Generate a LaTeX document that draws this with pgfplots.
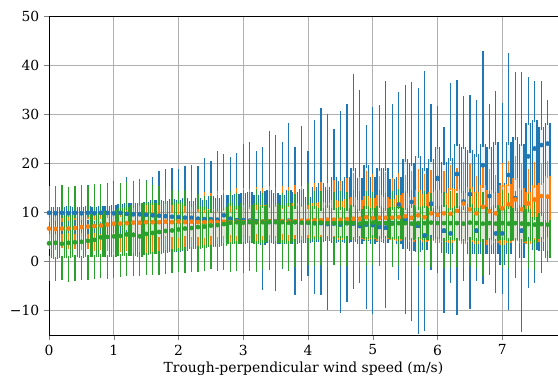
\documentclass[border=0pt]{standalone}
\usepackage{fontspec}
\setmainfont{DejaVu Serif}
\usepackage{pgfplots}
\usepackage{pgfplotstable}
\pgfplotsset{compat=1.18}
\definecolor{cblue}{HTML}{1F77B4}
\definecolor{corange}{HTML}{FF7F0E}
\definecolor{cgreen}{HTML}{2CA02C}

\pgfplotstableread{
x lw q1 med q3 uw mean
0.0 5.0 8.2 9.8 11.0 14.6 9.9
0.1 4.8 8.0 9.9 11.1 14.8 9.8
0.2 5.2 8.3 9.7 11.0 14.5 9.9
0.3 4.6 8.1 9.8 11.2 14.7 9.8
0.4 4.9 8.2 9.9 11.0 14.6 9.9
0.5 4.5 8.0 9.8 11.1 15.0 9.8
0.6 4.7 7.9 9.9 11.2 15.2 9.9
0.7 4.4 7.8 9.8 11.0 15.0 9.8
0.8 4.2 7.6 9.9 11.3 15.3 9.9
0.9 4.0 7.5 9.8 11.2 15.6 9.9
1.0 3.5 7.0 9.8 11.5 16.0 9.8
1.1 3.2 6.8 9.9 11.6 15.5 9.9
1.2 2.8 6.0 9.8 11.9 16.8 9.7
1.3 2.5 5.5 9.7 11.8 16.0 9.6
1.4 2.0 5.0 9.6 12.0 16.4 9.6
1.5 1.5 4.2 9.5 12.2 16.2 9.5
1.6 1.0 3.8 9.4 12.5 16.9 9.4
1.7 0.8 3.0 9.3 12.6 18.0 9.3
1.8 0.5 2.2 9.2 12.4 18.4 9.2
1.9 0.2 2.0 9.2 12.8 18.6 9.1
2.0 0.0 1.9 9.0 12.6 18.4 9.0
2.1 -0.2 2.2 9.0 12.9 19.0 8.9
2.2 -0.5 2.5 8.9 12.4 19.2 8.9
2.3 -0.8 2.8 8.8 13.0 19.0 8.7
2.4 -1.0 3.0 8.7 12.6 20.6 8.6
2.5 -1.2 3.2 8.6 13.3 20.0 8.6
2.6 -0.5 3.5 8.5 12.9 22.0 8.5
2.7 0.4 3.8 9.4 13.6 21.4 9.4
2.8 -0.8 3.6 8.8 13.5 20.8 8.7
2.9 -1.0 3.5 8.4 13.8 21.6 8.4
3.0 -2.0 3.7 8.5 14.0 23.5 8.4
3.1 -1.5 3.8 8.3 14.2 23.9 8.3
3.2 -1.0 3.6 8.2 13.5 22.0 8.2
3.3 -5.5 3.4 8.2 14.3 22.9 8.1
3.4 -1.4 3.7 8.0 14.5 26.1 8.0
3.5 -5.7 3.5 8.3 14.0 25.4 8.2
3.6 -1.2 3.6 8.0 13.6 24.0 8.1
3.7 -0.4 3.9 8.2 14.5 27.9 8.3
3.8 -6.5 3.5 8.0 14.2 22.9 8.0
3.9 -3.5 3.7 8.1 14.8 27.1 8.1
4.0 -2.5 3.8 7.8 13.1 22.1 7.9
4.1 -6.3 3.9 7.8 15.1 28.4 7.8
4.2 -6.5 4.0 7.7 15.9 30.8 7.8
4.3 -9.6 4.2 7.8 15.1 29.7 7.6
4.4 -0.4 3.8 7.7 17.1 26.5 7.7
4.5 -10.1 4.0 7.5 16.3 30.2 7.5
4.6 -7.8 3.7 7.8 17.2 31.6 7.8
4.7 -5.2 4.0 7.6 19.0 37.8 7.7
4.8 -4.0 3.5 7.0 17.0 34.6 7.2
4.9 -9.3 4.2 7.8 19.6 27.4 7.5
5.0 -10.4 3.5 7.2 17.2 31.0 7.4
5.1 0.6 4.0 6.8 19.0 31.5 7.0
5.2 -9.1 3.7 6.5 19.0 36.3 6.9
5.3 2.9 4.5 7.8 16.7 31.6 7.8
5.4 -3.3 3.5 11.0 17.1 34.2 11.6
5.5 -10.4 2.5 8.0 20.8 35.6 8.5
5.6 -11.8 2.2 12.0 20.0 36.1 12.1
5.7 -14.4 2.0 7.0 21.5 35.0 7.5
5.8 -13.7 2.4 5.0 19.0 38.4 5.3
5.9 -1.4 4.9 11.5 20.8 31.6 11.8
6.0 -2.0 4.3 16.5 23.3 31.2 17.0
6.1 -10.2 1.8 6.0 20.2 27.0 6.3
6.2 -4.0 1.6 5.5 21.0 36.0 5.7
6.3 -10.6 4.3 17.5 24.0 36.6 17.8
6.4 -3.5 3.7 12.0 23.3 33.3 12.2
6.5 -9.2 1.6 13.5 22.6 33.5 13.7
6.6 -3.5 1.6 6.0 21.8 32.4 6.3
6.7 -4.3 1.6 19.5 23.9 42.4 19.6
6.8 -2.4 1.6 13.0 23.3 31.6 13.3
6.9 -6.1 1.6 5.5 24.3 34.3 5.7
7.0 -6.3 -0.8 5.5 16.0 31.8 5.7
7.1 -9.6 1.6 17.5 24.3 42.0 17.6
7.2 -3.0 4.3 12.8 25.3 38.2 12.9
7.3 -13.9 0.6 6.0 24.0 38.2 6.3
7.4 -5.1 4.5 21.2 28.2 37.1 21.4
7.5 -4.0 2.4 22.8 28.8 36.3 23.0
7.6 -2.0 2.2 23.5 27.3 36.3 23.7
7.7 1.0 8.4 24.0 28.2 32.4 24.0
}\bluedata

\pgfplotstableread{
x lw q1 med q3 uw mean
0.0 3.0 5.0 6.6 8.6 12.2 6.7
0.1 2.8 5.1 6.5 8.8 12.0 6.6
0.2 3.1 5.0 6.6 8.5 12.3 6.7
0.3 2.9 5.2 6.7 8.7 12.1 6.7
0.4 3.0 5.1 6.8 8.9 12.4 6.8
0.5 2.7 5.2 7.0 9.0 12.2 7.0
0.6 2.9 5.0 7.1 9.1 12.5 7.1
0.7 2.6 5.3 7.2 9.0 12.3 7.2
0.8 2.8 5.1 7.3 9.2 12.6 7.3
0.9 2.5 5.0 7.5 9.4 12.4 7.5
1.0 2.4 5.2 7.6 9.5 12.8 7.7
1.1 2.3 4.9 7.7 9.6 12.5 7.7
1.2 2.5 5.0 7.8 9.7 13.0 7.8
1.3 2.2 4.8 7.8 9.8 12.8 7.9
1.4 2.4 4.9 7.9 10.0 13.2 7.9
1.5 2.0 4.6 8.0 9.9 13.0 8.0
1.6 2.3 4.8 8.0 10.1 13.3 8.0
1.7 2.1 4.5 7.9 10.2 13.1 8.0
1.8 2.4 4.7 8.0 10.0 13.4 8.1
1.9 2.0 4.4 8.0 10.3 13.2 8.0
2.0 2.3 4.3 8.1 10.1 13.5 8.1
2.1 2.2 4.6 8.0 10.4 13.3 8.0
2.2 2.5 4.4 8.1 10.2 13.6 8.1
2.3 2.1 4.5 8.0 10.5 13.4 8.0
2.4 2.6 4.3 8.0 10.3 13.7 8.0
2.5 2.4 4.6 8.1 10.6 13.5 8.1
2.6 2.8 4.5 8.0 10.5 13.9 8.0
2.7 3.0 4.7 8.0 10.8 14.2 8.1
2.8 3.5 4.8 8.0 10.6 14.0 8.0
2.9 3.2 4.6 8.1 11.0 14.5 8.1
3.0 3.7 4.9 8.0 10.9 14.6 8.0
3.1 3.4 4.7 8.1 11.2 14.3 8.1
3.2 3.8 5.0 8.0 11.0 14.8 8.0
3.3 3.5 4.6 8.1 11.4 14.5 8.1
3.4 3.7 4.8 8.2 11.3 14.9 8.2
3.5 3.3 4.7 8.0 11.5 14.6 8.1
3.6 3.9 5.0 8.1 11.2 15.0 8.2
3.7 3.6 4.8 8.2 11.6 14.8 8.2
3.8 3.8 4.9 8.1 11.8 15.2 8.2
3.9 3.4 4.7 8.2 11.5 15.0 8.3
4.0 3.7 4.8 8.3 11.1 15.3 8.3
4.1 3.5 4.6 8.3 11.9 15.5 8.4
4.2 3.9 4.9 8.4 12.2 15.8 8.4
4.3 3.3 4.5 8.4 12.0 15.5 8.5
4.4 3.6 4.7 8.5 12.5 16.2 8.5
4.5 3.2 4.4 8.4 12.3 16.0 8.5
4.6 3.5 4.6 8.6 12.8 16.6 8.6
4.7 2.9 4.3 8.7 13.1 17.6 8.7
4.8 3.4 4.6 8.6 12.6 16.8 8.7
4.9 3.0 4.4 8.9 13.3 18.0 9.0
5.0 3.3 4.5 8.7 13.0 17.5 8.8
5.1 2.8 4.2 8.8 13.5 17.0 8.9
5.2 3.1 4.5 8.9 13.2 17.8 8.9
5.3 2.9 4.3 8.8 12.8 16.5 8.9
5.4 2.7 4.2 9.0 13.6 17.6 9.0
5.5 3.0 4.4 9.2 14.0 17.2 9.2
5.6 2.5 4.0 8.8 13.2 18.0 8.9
5.7 2.8 4.3 9.3 14.5 18.5 9.4
5.8 2.4 3.9 9.0 13.8 17.5 9.0
5.9 2.6 4.1 9.6 14.2 18.2 9.8
6.0 2.2 3.8 9.4 14.6 18.8 9.5
6.1 2.5 4.0 9.8 14.0 18.0 9.8
6.2 2.1 3.7 9.6 15.0 19.2 9.7
6.3 2.4 4.1 10.2 14.8 18.6 10.3
6.4 2.0 3.6 11.6 13.9 19.8 11.8
6.5 2.3 4.0 10.5 15.2 19.4 10.6
6.6 1.9 3.5 9.8 14.1 17.1 9.8
6.7 2.2 3.9 11.0 15.5 19.0 11.1
6.8 1.8 3.4 10.0 14.5 18.5 10.2
6.9 2.1 3.8 9.8 14.0 17.3 9.8
7.0 1.7 3.3 10.8 15.6 19.6 10.8
7.1 2.0 3.7 11.5 15.8 20.0 11.6
7.2 1.8 4.2 12.5 17.0 21.0 12.6
7.3 2.2 3.8 10.5 15.0 19.5 10.6
7.4 1.9 3.5 11.6 14.2 18.4 11.8
7.5 2.4 4.2 12.5 15.5 19.8 12.6
7.6 2.0 3.9 13.2 16.0 19.5 13.3
7.7 2.6 4.5 13.0 17.5 20.1 13.2
}\orangedata

\pgfplotstableread{
x lw q1 med q3 uw mean
0.0 -3.5 0.6 3.5 9.4 15.0 3.7
0.1 -3.6 0.5 3.6 9.5 14.9 3.8
0.2 -3.4 0.7 3.5 9.3 15.1 3.6
0.3 -3.7 0.6 3.7 9.6 14.8 3.8
0.4 -3.5 0.8 3.8 9.4 15.0 3.9
0.5 -3.3 0.7 3.9 9.7 15.2 4.0
0.6 -3.4 0.9 4.0 9.6 15.0 4.2
0.7 -3.2 0.8 4.3 9.9 15.3 4.4
0.8 -3.0 1.0 4.8 10.0 15.4 4.9
0.9 -3.1 0.9 4.9 10.2 15.2 5.0
1.0 -2.9 0.9 5.0 10.5 15.6 5.1
1.1 -2.7 1.1 5.1 10.8 15.5 5.2
1.2 -2.6 1.2 5.4 11.0 15.8 5.5
1.3 -2.5 1.2 5.3 11.4 15.7 5.4
1.4 -2.5 1.0 5.0 11.8 16.2 5.1
1.5 -2.4 1.3 5.6 11.9 15.9 5.6
1.6 -2.3 1.5 5.8 12.0 15.2 5.8
1.7 -2.3 1.6 6.0 11.9 14.9 6.0
1.8 -2.2 1.8 6.1 12.2 14.5 6.2
1.9 -2.0 2.0 6.3 12.0 14.2 6.3
2.0 -1.8 2.2 6.5 12.1 14.0 6.5
2.1 -1.9 2.4 6.6 11.8 14.1 6.7
2.2 -1.7 2.5 6.8 11.6 13.9 6.8
2.3 -1.8 2.6 6.9 11.2 13.3 7.0
2.4 -1.6 2.8 7.0 11.0 13.0 7.1
2.5 -1.2 2.9 7.2 10.4 12.9 7.3
2.6 -1.5 3.0 7.3 10.8 13.1 7.4
2.7 -1.4 3.2 7.5 11.0 13.5 7.6
2.8 -1.8 3.5 7.8 11.8 14.0 7.9
2.9 -1.6 3.6 7.9 11.2 13.6 8.0
3.0 -1.9 3.5 7.8 12.0 14.2 7.9
3.1 -1.5 3.7 8.0 11.5 13.8 8.0
3.2 -1.7 3.6 7.9 11.9 14.3 8.0
3.3 -1.2 3.8 8.0 11.3 13.5 8.0
3.4 -0.1 3.9 8.1 11.6 13.9 8.1
3.5 -1.4 3.7 7.9 12.0 14.4 8.0
3.6 -1.0 3.8 8.0 11.4 13.6 8.0
3.7 -1.6 3.6 7.9 11.8 14.0 7.9
3.8 -0.8 4.0 8.0 11.2 13.4 8.0
3.9 -1.3 3.9 7.9 11.7 14.2 7.9
4.0 -0.4 4.2 7.8 12.0 15.5 7.9
4.1 -0.6 4.5 7.8 11.2 14.0 7.8
4.2 -0.4 4.4 7.9 10.8 13.9 7.9
4.3 -0.8 4.6 7.8 11.4 14.2 7.8
4.4 -0.3 4.5 7.7 10.9 13.8 7.8
4.5 -0.5 4.7 7.8 11.0 14.0 7.8
4.6 -0.6 4.6 7.9 10.8 13.7 7.8
4.7 -0.4 4.4 7.8 11.5 14.1 7.8
4.8 -0.7 4.7 7.7 10.7 13.9 7.7
4.9 -0.5 4.5 7.8 11.2 14.0 7.8
5.0 -0.3 4.8 7.9 10.9 13.8 7.9
5.1 -0.6 4.6 7.8 11.3 14.2 7.8
5.2 -0.4 4.7 7.7 10.8 13.6 7.8
5.3 -0.8 4.5 7.8 11.0 14.0 7.7
5.4 -0.5 4.6 7.9 11.2 14.3 7.8
5.5 -0.7 4.4 7.8 10.9 13.9 7.8
5.6 -1.0 4.3 7.7 11.4 14.1 7.7
5.7 -0.6 4.5 7.8 11.0 13.7 7.8
5.8 -0.9 4.4 7.8 11.3 14.0 7.8
5.9 -0.8 4.3 7.9 10.8 13.5 7.9
6.0 -0.5 4.5 7.8 11.2 14.2 7.8
6.1 -0.9 4.2 7.7 11.5 13.8 7.8
6.2 -0.7 4.4 7.8 10.9 14.0 7.8
6.3 -0.8 4.3 7.8 11.3 13.6 7.8
6.4 -1.0 4.1 7.7 11.0 13.9 7.7
6.5 -0.6 4.4 7.9 11.6 14.3 7.9
6.6 -0.9 4.2 7.8 10.8 13.5 7.8
6.7 -2.5 4.0 7.6 11.2 13.8 7.7
6.8 -0.8 4.3 7.8 11.0 14.0 7.8
6.9 -1.2 4.1 7.7 11.4 13.7 7.7
7.0 -0.7 4.4 7.9 10.9 14.1 7.8
7.1 -1.0 4.2 7.7 11.2 13.6 7.7
7.2 -0.8 4.3 7.8 10.8 13.9 7.8
7.3 -1.1 4.0 7.6 11.5 14.2 7.7
7.4 -0.9 4.2 7.7 10.6 13.4 7.6
7.5 -1.3 3.8 7.5 9.0 12.8 7.5
7.6 0.5 4.5 7.6 9.8 13.0 7.6
7.7 0.3 0.6 7.4 8.4 13.2 7.5
}\greendata

% draws one series of box plots from its table: #1 table, #2 colour
\newcommand\boxseries[2]{%
  % light box fill with top and bottom edges as error marks
  \addplot[draw=none, mark=none, forget plot, error bars/.cd, y dir=both, y explicit, error mark=-,
    error bar style={draw=#2, line width=3.2pt, opacity=0.08},
    error mark options={draw=#2, mark size=1.75pt, line width=0.9pt, opacity=1}]
    table[x=x, y expr=(\thisrow{q1}+\thisrow{q3})/2, y error expr=(\thisrow{q3}-\thisrow{q1})/2]{#1};
  % box sides
  \addplot[draw=none, mark=none, forget plot, error bars/.cd, y dir=plus, y explicit, error mark=-,
    error bar style={draw=#2, line width=0.9pt},
    error mark options={draw=#2, mark size=0pt, line width=0.9pt}]
    table[x expr=\thisrow{x}-0.035, y=q1, y error plus expr=\thisrow{q3}-\thisrow{q1}]{#1};
  \addplot[draw=none, mark=none, forget plot, error bars/.cd, y dir=plus, y explicit, error mark=-,
    error bar style={draw=#2, line width=0.9pt},
    error mark options={draw=#2, mark size=0pt, line width=0.9pt}]
    table[x expr=\thisrow{x}+0.035, y=q1, y error plus expr=\thisrow{q3}-\thisrow{q1}]{#1};
  % median
  \addplot[draw=none, mark=none, forget plot, error bars/.cd, x dir=both, x fixed=0.035, error mark=-,
    error bar style={draw=#2, line width=1.0pt},
    error mark options={draw=#2, mark size=0pt, line width=1.0pt}]
    table[x=x, y=med]{#1};
  % upper whisker with cap
  \addplot[draw=none, mark=none, forget plot, error bars/.cd, y dir=plus, y explicit, error mark=-,
    error bar style={draw=#2, line width=0.9pt},
    error mark options={draw=#2, mark size=1.4pt, line width=0.9pt}]
    table[x=x, y=q3, y error plus expr=\thisrow{uw}-\thisrow{q3}]{#1};
  % lower whisker with cap
  \addplot[draw=none, mark=none, forget plot, error bars/.cd, y dir=minus, y explicit, error mark=-,
    error bar style={draw=#2, line width=0.9pt},
    error mark options={draw=#2, mark size=1.4pt, line width=0.9pt}]
    table[x=x, y=q1, y error minus expr=\thisrow{q1}-\thisrow{lw}]{#1};
  % mean
  \addplot[only marks, mark=*, mark size=1.5pt, draw=#2, fill=#2, forget plot]
    table[x=x, y=mean]{#1};
}

\begin{document}
\begin{tikzpicture}
\useasboundingbox (-35.3pt,-31.7pt) rectangle (366.4pt,241.2pt);
\begin{axis}[
  at={(0,0)}, anchor=south west,
  scale only axis,
  width=366.4pt, height=229.7pt,
  xmin=0, xmax=7.86, ymin=-15, ymax=50,
  xtick={0,1,2,3,4,5,6,7},
  xticklabels={0,1,2,3,4,5,6,7},
  ytick={-10,0,10,20,30,40,50},
  yticklabels={−10,0,10,20,30,40,50},
  tick align=outside, tick pos=left,
  major tick length=3.5pt,
  grid=major,
  major grid style={color=black!31, line width=0.6pt},
  axis line style={line width=0.6pt},
  xlabel={Trough-perpendicular wind speed (m/s)},
  xlabel style={yshift=2pt},
]
\boxseries{\bluedata}{cblue}
\boxseries{\orangedata}{corange}
\boxseries{\greendata}{cgreen}
\end{axis}
\end{tikzpicture}
\end{document}
